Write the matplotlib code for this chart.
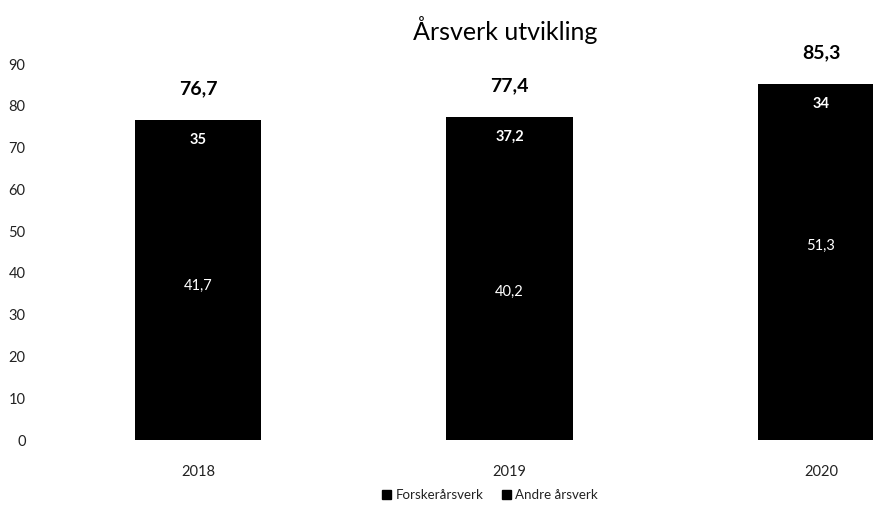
import matplotlib
matplotlib.use("Agg")
import matplotlib.pyplot as plt
from matplotlib.patches import Patch

plt.rcParams['font.family'] = ['Lato', 'DejaVu Sans']

years = ["2018", "2019", "2020"]
forsker = [41.7, 40.2, 51.3]
andre = [35, 37.2, 34]
totals = [76.7, 77.4, 85.3]
yticks = [0, 10, 20, 30, 40, 50, 60, 70, 80, 90]

W, H = 873, 507
fig = plt.figure(figsize=(W / 100, H / 100), dpi=100)
ax = fig.add_axes([42.25 / W, 67 / H, 1 - 42.25 / W, (440 - 64) / H])

x = list(range(len(years)))
bw = 0.405
ax.bar(x, forsker, width=bw, color="black", label="Forskerårsverk")
ax.bar(x, andre, width=bw, bottom=forsker, color="black", label="Andre årsverk")

def fmt(v):
    return f"{v:g}".replace(".", ",")

for xi, f, a, t in zip(x, forsker, andre, totals):
    ax.annotate(fmt(f), (xi, f), xytext=(0, -20), textcoords="offset pixels",
                ha="center", va="center", color="white", fontsize=10.5, clip_on=False)
    ax.annotate(fmt(a), (xi, f + a), xytext=(0, -20), textcoords="offset pixels",
                ha="center", va="center", color="white", fontsize=10.5,
                fontweight="bold", clip_on=False)
    ax.annotate(fmt(t), (xi, t), xytext=(0, 31), textcoords="offset pixels",
                ha="center", va="center", color="black", fontsize=14,
                fontweight="bold", annotation_clip=False)

ax.set_xlim(-0.5, (873 - 198) / 311.5)
ax.set_ylim(0, 90)
ax.set_yticks(yticks)
ax.set_yticklabels([str(v) for v in yticks], fontsize=10.5)
ax.set_xticks(x)
ax.set_xticklabels(years, fontsize=10.5)
ax.tick_params(axis="both", length=0, colors="#222222")
ax.tick_params(axis="x", pad=18)
ax.tick_params(axis="y", pad=12)
for s in ax.spines.values():
    s.set_visible(False)

fig.text(505 / W, 1 - 30 / H, "Årsverk utvikling", ha="center", va="center",
         fontsize=18, color="black")

handles = [Patch(color="black", label="Forskerårsverk"),
           Patch(color="black", label="Andre årsverk")]
fig.legend(handles=handles, loc="center", bbox_to_anchor=(490 / W, 1 - 495 / H),
           ncol=2, frameon=False, fontsize=9.6, handlelength=0.7, handleheight=0.7,
           handletextpad=0.3, columnspacing=1.4, labelcolor="#222222")

fig.savefig("out.png", dpi=100)
